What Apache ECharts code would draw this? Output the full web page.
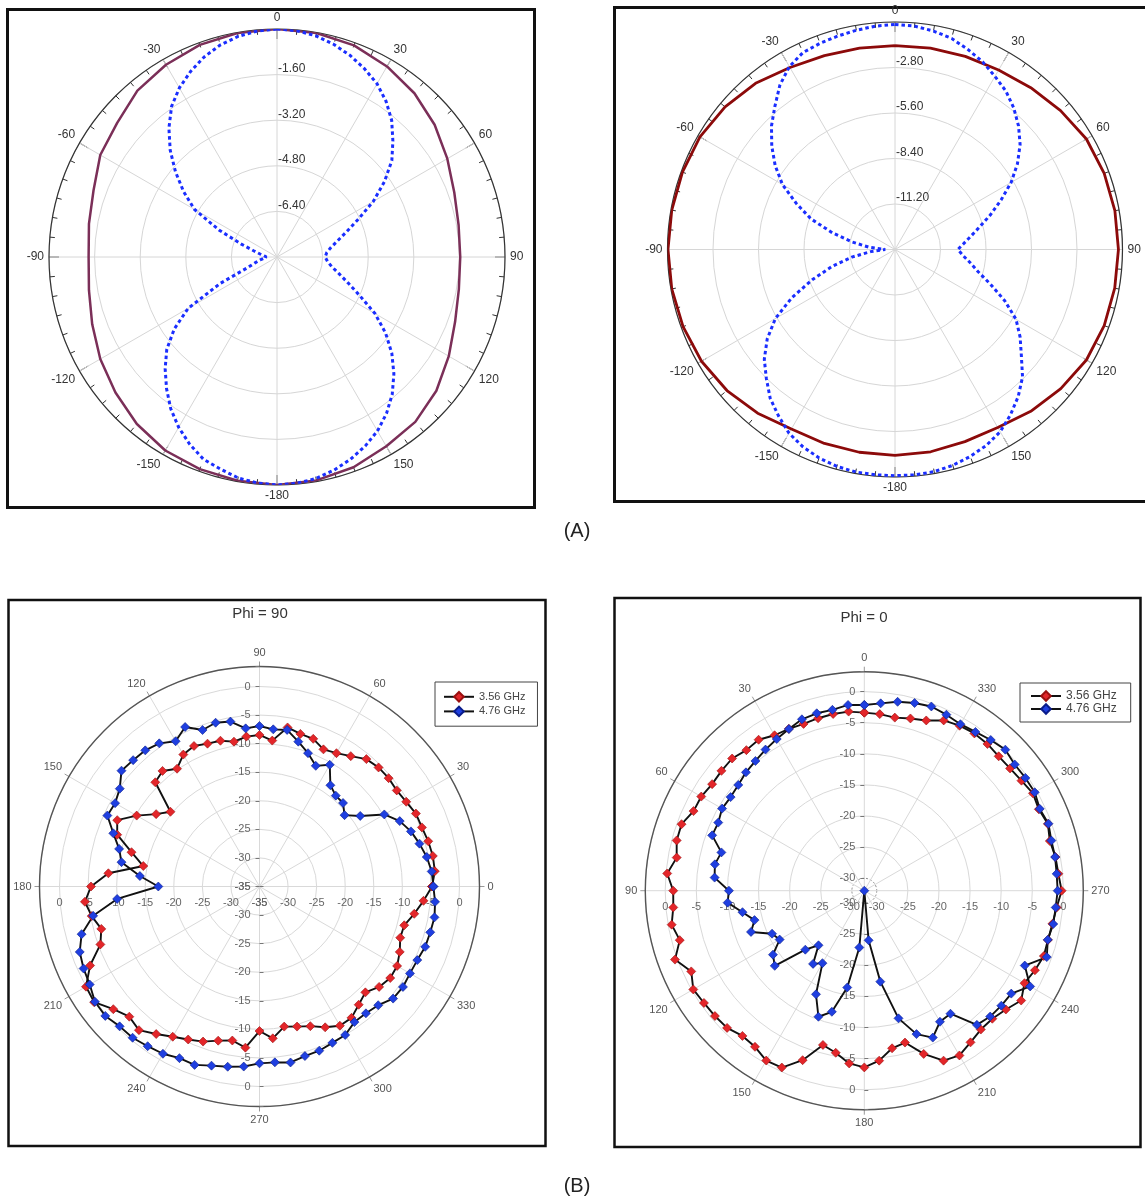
<!DOCTYPE html>
<html>
<head>
<meta charset="utf-8">
<script src="https://cdn.jsdelivr.net/npm/echarts@6/dist/echarts.min.js"></script>
<style>
html,body{margin:0;padding:0;background:#fff;}
#chart{width:1145px;height:1200px;}
</style>
</head>
<body>
<div id="chart"></div>
<script>
const FONT = 'Arial, "Liberation Sans", Helvetica, sans-serif';

// ---------- Panel (A): angles (deg, 0 = top, clockwise; >180 shown as negative) ----------
const aAngles5 = [0,5,10,15,20,25,30,35,40,45,50,55,60,65,70,75,80,85,90,95,100,105,110,115,120,125,130,135,140,145,150,155,160,165,170,175,180,185,190,195,200,205,210,215,220,225,230,235,240,245,250,255,260,265,270,275,280,285,290,295,300,305,310,315,320,325,330,335,340,345,350,355];
const aAngles10 = [0,10,20,30,40,50,60,70,80,90,100,110,120,130,140,150,160,170,180,190,200,210,220,230,240,250,260,270,280,290,300,310,320,330,340,350];

// Left plot (scale -8 .. 0)
const aLeftDotted = [0,-0.03,-0.12,-0.28,-0.48,-0.72,-0.98,-1.33,-1.74,-2.25,-2.74,-3.4,-4.1,-4.85,-5.4,-5.8,-6.08,-6.25,-6.31,-6.22,-6.05,-5.75,-5.35,-4.8,-4.03,-3.35,-2.74,-2.2,-1.71,-1.3,-0.95,-0.68,-0.45,-0.26,-0.11,-0.03,0,-0.04,-0.13,-0.3,-0.45,-0.75,-1.1,-1.5,-1.97,-2.45,-2.95,-3.6,-4.4,-5.8,-6.9,-7.2,-7.4,-7.55,-7.63,-7.55,-7.4,-7.15,-6.65,-5.75,-4.65,-4.0,-3.35,-2.7,-2.1,-1.55,-1.15,-0.82,-0.53,-0.3,-0.14,-0.04];
const aLeftSolid = [0,-0.02,-0.1,-0.28,-0.5,-0.78,-1.1,-1.38,-1.53,-1.57,-1.52,-1.35,-1.04,-0.7,-0.45,-0.33,-0.15,-0.04,0,-0.03,-0.08,-0.16,-0.35,-0.6,-0.84,-1.1,-1.3,-1.39,-1.3,-1.15,-0.84,-0.68,-0.38,-0.21,-0.08,-0.02];

// Right plot (scale -14 .. 0)
const aRightDotted = [-0.15,-0.2,-0.35,-0.55,-0.9,-1.25,-1.7,-2.1,-2.63,-3.25,-3.95,-4.8,-5.75,-6.8,-7.75,-8.6,-9.25,-9.75,-10.13,-9.8,-9.3,-8.7,-7.75,-6.55,-5.4,-4.6,-3.85,-2.9,-2.2,-1.6,-1.05,-0.7,-0.45,-0.25,-0.12,-0.08,-0.08,-0.08,-0.1,-0.18,-0.35,-0.6,-0.95,-1.5,-2.05,-2.8,-3.5,-4.4,-5.5,-7.0,-8.6,-10.0,-11.3,-12.5,-13.4,-12.4,-11.3,-10.0,-8.5,-7.3,-6.0,-5.0,-4.1,-3.25,-2.5,-1.65,-1.0,-0.62,-0.5,-0.4,-0.3,-0.2];
const aRightSolid = [-1.45,-1.42,-1.35,-1.25,-1.0,-0.7,-0.4,-0.3,-0.26,-0.25,-0.27,-0.3,-0.4,-0.68,-1.0,-1.35,-1.42,-1.36,-1.33,-1.33,-1.3,-1.25,-0.85,-0.5,-0.25,-0.12,-0.05,-0.03,-0.05,-0.08,-0.14,-0.35,-0.65,-1.07,-1.3,-1.42];

// ---------- Panel (B): measured patterns, angles every 5 deg ----------
const bAngles = [0,5,10,15,20,25,30,35,40,45,50,55,60,65,70,75,80,85,90,95,100,105,110,115,120,125,130,135,140,145,150,155,160,165,170,175,180,185,190,195,200,205,210,215,220,225,230,235,240,245,250,255,260,265,270,275,280,285,290,295,300,305,310,315,320,325,330,335,340,345,350,355];
const bSeriesNames = ['3.56 GHz', '4.76 GHz'];
const bTitles = ['Phi = 90', 'Phi = 0'];
const panelLabels = ['(A)', '(B)'];

// Phi = 90 (0 deg at right, counter-clockwise)
const bPhi90_356 = [-4.8,-4.2,-4.2,-4.43,-4.75,-4.8,-5.35,-5.68,-5.5,-5.54,-5.9,-7.15,-8.06,-8.52,-7.5,-7.35,-6.74,-9.37,-8.48,-8.67,-9.26,-8.59,-8.4,-7.87,-8.34,-9.84,-8.6,-9.21,-14.66,-12.92,-10.18,-7.53,-8.5,-11.81,-14.35,-8.45,-5.51,-4.33,-5.18,-6.34,-5.37,-2.29,0.06,0.31,-1.6,-2.78,-2.18,-3.48,-4.64,-5.46,-6.12,-7.07,-7.63,-6.69,-9.71,-8.33,-10.1,-9.62,-8.99,-7.81,-6.87,-6.94,-7.99,-8.8,-7.67,-7.07,-7.19,-7.92,-8.79,-8.78,-7.5,-6.19];
const bPhi90_476 = [-4.57,-4.75,-5.28,-6.02,-6.8,-7.92,-9.78,-13.48,-15.57,-14.33,-14.24,-13.37,-10.41,-11.7,-10.17,-8.76,-7.18,-7.39,-6.91,-7.22,-5.69,-5.33,-5.86,-4.2,-5.65,-4.42,-3.9,-3.73,-3.47,-5.15,-5.82,-5.62,-7.78,-9.57,-10.48,-13.99,-17.29,-9.99,-5.44,-2.77,-1.52,-1.03,-0.69,0.15,0.23,-0.39,-0.45,-0.88,-1.2,-1.86,-1.78,-2.54,-2.97,-3.37,-4.05,-4.11,-3.73,-4.28,-4.42,-4.81,-5.0,-6.03,-6.03,-5.62,-4.48,-4.35,-4.59,-4.53,-4.14,-4.06,-3.9,-4.16];

// Phi = 0 (0 deg at top, counter-clockwise)
const bPhi0_356 = [-3.38,-3.1,-3.16,-3.3,-3.47,-3.3,-3.15,-2.38,-2.51,-1.95,-2.03,-2.14,-1.74,-1.72,-0.74,-0.78,-1.38,-0.2,-1.29,-1.18,-0.56,-1.29,0.38,-1.31,-0.26,-0.54,-0.66,-0.81,-1.53,-1.37,-0.48,-0.64,-3.01,-6.33,-5.55,-4.13,-3.6,-4.58,-6.28,-6.73,-4.08,-1.86,-1.42,-2.24,-2.87,-2.9,-2.3,-1.22,-2.27,-1.74,-1.29,-1.45,-1.3,-0.96,-0.28,-0.69,-0.8,-1.13,-0.6,-1.05,-0.7,-1.16,-1.42,-1.45,-1.21,-1.14,-1.38,-1.8,-2.88,-3.34,-3.75,-3.51];
const bPhi0_476 = [-2.15,-2.03,-2.48,-2.48,-2.68,-3.33,-3.85,-4.31,-4.78,-5.1,-5.56,-5.77,-5.61,-6.1,-5.98,-8.22,-7.61,-7.85,-10.24,-9.95,-12.12,-13.73,-12.62,-15.64,-16.29,-14.08,-13.21,-18.59,-20.55,-17.64,-18.55,-13.63,-10.44,-11.85,-16.2,-22.84,-32,-24,-17.16,-10.76,-7.47,-5.95,-7.68,-7.86,-3.85,-3.39,-3.25,-3.16,-1.22,-3.54,-0.79,-1.47,-1.16,-1.12,-0.92,-0.96,-0.86,-0.87,-0.5,-0.88,-0.37,-0.39,-0.44,0.06,-0.38,-0.85,-1.1,-0.78,-0.49,-0.77,-1.17,-1.77];

// ---------- build ----------
function loop(vals, angles) {
  const d = vals.map((v, i) => [v, angles[i]]);
  d.push([vals[0], 360]);
  return d;
}

const polar = [], angleAxis = [], radiusAxis = [], series = [];
function addPolar(center, radius, aOpt, rOpt) {
  const i = polar.length;
  polar.push({ center: center, radius: radius });
  angleAxis.push(Object.assign({ polarIndex: i, type: 'value', min: 0, max: 360, interval: 30 }, aOpt));
  radiusAxis.push(Object.assign({ polarIndex: i, type: 'value' }, rOpt));
  return i;
}
const hiddenAngle = (start, cw) => ({
  startAngle: start, clockwise: cw,
  axisLine: { show: false }, axisTick: { show: false }, axisLabel: { show: false }, splitLine: { show: false }
});

const signedFmt = v => v >= 360 ? '' : String(v > 180 ? v - 360 : (v === 180 ? -180 : v));

function topPolar(center, radius, min, step) {
  return addPolar(center, radius, {
    startAngle: 90, clockwise: true,
    axisLine: { show: true, lineStyle: { color: '#333', width: 1.2 } },
    axisTick: { show: true, inside: true, length: 10, lineStyle: { color: '#333', width: 1 } },
    minorTick: { show: true, splitNumber: 6, length: 5, lineStyle: { color: '#333', width: 1 } },
    axisLabel: { margin: 5, color: '#333', fontSize: 12, fontFamily: FONT, formatter: signedFmt },
    splitLine: { show: true, lineStyle: { color: '#d6d6d6', width: 1 } }
  }, {
    min: min, max: 0, interval: step,
    axisLine: { show: false }, axisTick: { show: false },
    axisLabel: { margin: -1, align: 'left', verticalAlign: 'bottom', color: '#333', fontSize: 12, fontFamily: FONT,
      formatter: v => (v <= min + 1e-6 || v >= -1e-6) ? '' : v.toFixed(2) },
    splitLine: { show: true, lineStyle: { color: '#d6d6d6', width: 1 } }
  });
}

const pA1 = topPolar([277, 257], 228, -8, 1.6);
const pA2 = topPolar([895, 249.5], 227.5, -14, 2.8);

series.push({ type: 'line', coordinateSystem: 'polar', polarIndex: pA1, data: loop(aLeftSolid, aAngles10),
  showSymbol: false, lineStyle: { color: '#7b2f58', width: 2.5 }, z: 3 });
series.push({ type: 'line', coordinateSystem: 'polar', polarIndex: pA1, data: loop(aLeftDotted, aAngles5),
  showSymbol: false, lineStyle: { color: '#1a2eff', width: 3, type: [3.5, 3] }, z: 4 });
series.push({ type: 'line', coordinateSystem: 'polar', polarIndex: pA2, data: loop(aRightSolid, aAngles10),
  showSymbol: false, lineStyle: { color: '#8c0a0a', width: 2.8 }, z: 3 });
series.push({ type: 'line', coordinateSystem: 'polar', polarIndex: pA2, data: loop(aRightDotted, aAngles5),
  showSymbol: false, lineStyle: { color: '#1a2eff', width: 3, type: [3.5, 3] }, z: 4 });

// bottom panels
const bRadiusFmt = v => (v > 0.01 || Math.abs(v % 5) > 0.01) ? '' : String(Math.round(v));
const dirLabel = {
  0:   { margin: -11, align: 'center', verticalAlign: 'top' },
  90:  { margin: 9, align: 'right', verticalAlign: 'middle' },
  180: { margin: 11, align: 'center', verticalAlign: 'top' },
  270: { margin: -9, align: 'right', verticalAlign: 'middle' }
};
const GRID = '#d9d9d9', NONE = 'rgba(0,0,0,0)';

function bottomPolar(center, radius, start, rScale, mainRingColors, dashedRingColors) {
  const main = addPolar(center, radius, {
    startAngle: start, clockwise: false,
    axisLine: { show: true, lineStyle: { color: '#555', width: 1.4 } },
    axisTick: { show: true, inside: false, length: 5, lineStyle: { color: '#999' } },
    axisLabel: { margin: 8, color: '#555', fontSize: 11, fontFamily: FONT, formatter: v => v >= 360 ? '' : String(v) },
    splitLine: { show: true, lineStyle: { color: GRID, width: 1 } }
  }, Object.assign({
    axisLine: { show: false }, axisTick: { show: false }, axisLabel: { show: false },
    splitLine: { show: true, lineStyle: { color: mainRingColors, width: 1 } }
  }, rScale));
  [0, 90, 180, 270].forEach(dir => {
    const vertical = (dir === 90 || dir === 270);
    const dashed = (dir === 0 && dashedRingColors);
    addPolar(center, radius, hiddenAngle(dir, false), Object.assign({
      axisLine: { show: false },
      axisTick: { show: vertical, length: 4, lineStyle: { color: '#777' } },
      axisLabel: Object.assign({ color: '#666', fontSize: 11, fontFamily: FONT, formatter: bRadiusFmt }, dirLabel[dir]),
      splitLine: dashed ? { show: true, lineStyle: { color: dashedRingColors, width: 1, type: [2, 2] } } : { show: false }
    }, rScale));
  });
  return main;
}

// Phi = 90: rings -35(center) .. 0, outer edge 3.5
const pB1 = bottomPolar([259.5, 886.5], 220, 0, { min: -35, max: 3.5, interval: 5 }, GRID, null);
// Phi = 0: ticks -32(center), -30 (dashed ring), -25 .. 0, outer edge 3.2
const pB2 = bottomPolar([864.3, 890.7], 219, 90, { min: -32, max: 3.2, splitNumber: 7 },
  [GRID, NONE, GRID, GRID, GRID, GRID, GRID, GRID, GRID],
  [NONE, '#8a8a8a', NONE, NONE, NONE, NONE, NONE, NONE, NONE]);

function bSeries(pIdx, name, vals, color, border) {
  return {
    type: 'line', coordinateSystem: 'polar', polarIndex: pIdx, name: name,
    data: loop(vals, bAngles),
    symbol: 'diamond', symbolSize: 9, showAllSymbol: true,
    lineStyle: { color: '#111', width: 1.9 },
    itemStyle: { color: color, borderColor: border, borderWidth: 0.6 },
    z: 5
  };
}
series.push(bSeries(pB1, bSeriesNames[0], bPhi90_356, '#e3262a', '#9a1010'));
series.push(bSeries(pB1, bSeriesNames[1], bPhi90_476, '#1f3fe0', '#0a1c8a'));
series.push(bSeries(pB2, bSeriesNames[0], bPhi0_356, '#e3262a', '#9a1010'));
series.push(bSeries(pB2, bSeriesNames[1], bPhi0_476, '#1f3fe0', '#0a1c8a'));

const legendBase = {
  orient: 'vertical', selectedMode: false, data: bSeriesNames,
  borderColor: '#444', borderWidth: 1, itemWidth: 30, itemHeight: 12,
  textStyle: { color: '#444', fontFamily: FONT }
};

const option = {
  animation: false,
  backgroundColor: '#fff',
  polar: polar,
  angleAxis: angleAxis,
  radiusAxis: radiusAxis,
  legend: [
    Object.assign({}, legendBase, { left: 435, top: 682, padding: [9, 12, 9, 8], itemGap: 3,
      textStyle: Object.assign({}, legendBase.textStyle, { fontSize: 11 }) }),
    Object.assign({}, legendBase, { left: 1020, top: 683, padding: [7, 14, 7, 10], itemGap: 1,
      textStyle: Object.assign({}, legendBase.textStyle, { fontSize: 12 }) })
  ],
  series: series,
  graphic: [
    { type: 'rect', shape: { x: 7.5, y: 9.5, width: 527, height: 498 }, style: { fill: 'none', stroke: '#111', lineWidth: 3 }, silent: true },
    { type: 'rect', shape: { x: 614.5, y: 7.5, width: 560, height: 494 }, style: { fill: 'none', stroke: '#111', lineWidth: 3 }, silent: true },
    { type: 'rect', shape: { x: 8.5, y: 600, width: 537, height: 546 }, style: { fill: 'none', stroke: '#111', lineWidth: 2.5 }, silent: true },
    { type: 'rect', shape: { x: 614.5, y: 598, width: 526, height: 549 }, style: { fill: 'none', stroke: '#111', lineWidth: 2.5 }, silent: true },
    { type: 'text', x: 577, y: 531, style: { text: panelLabels[0], fontSize: 20, fontFamily: FONT, fill: '#222', align: 'center', verticalAlign: 'middle' } },
    { type: 'text', x: 577, y: 1186, style: { text: panelLabels[1], fontSize: 20, fontFamily: FONT, fill: '#222', align: 'center', verticalAlign: 'middle' } },
    { type: 'text', x: 260, y: 614, style: { text: bTitles[0], fontSize: 15, fontFamily: FONT, fill: '#333', align: 'center', verticalAlign: 'middle' } },
    { type: 'text', x: 864, y: 618, style: { text: bTitles[1], fontSize: 15, fontFamily: FONT, fill: '#333', align: 'center', verticalAlign: 'middle' } }
  ]
};

const chart = echarts.init(document.getElementById('chart'), null, { renderer: 'canvas' });
chart.setOption(option);
</script>
</body>
</html>
